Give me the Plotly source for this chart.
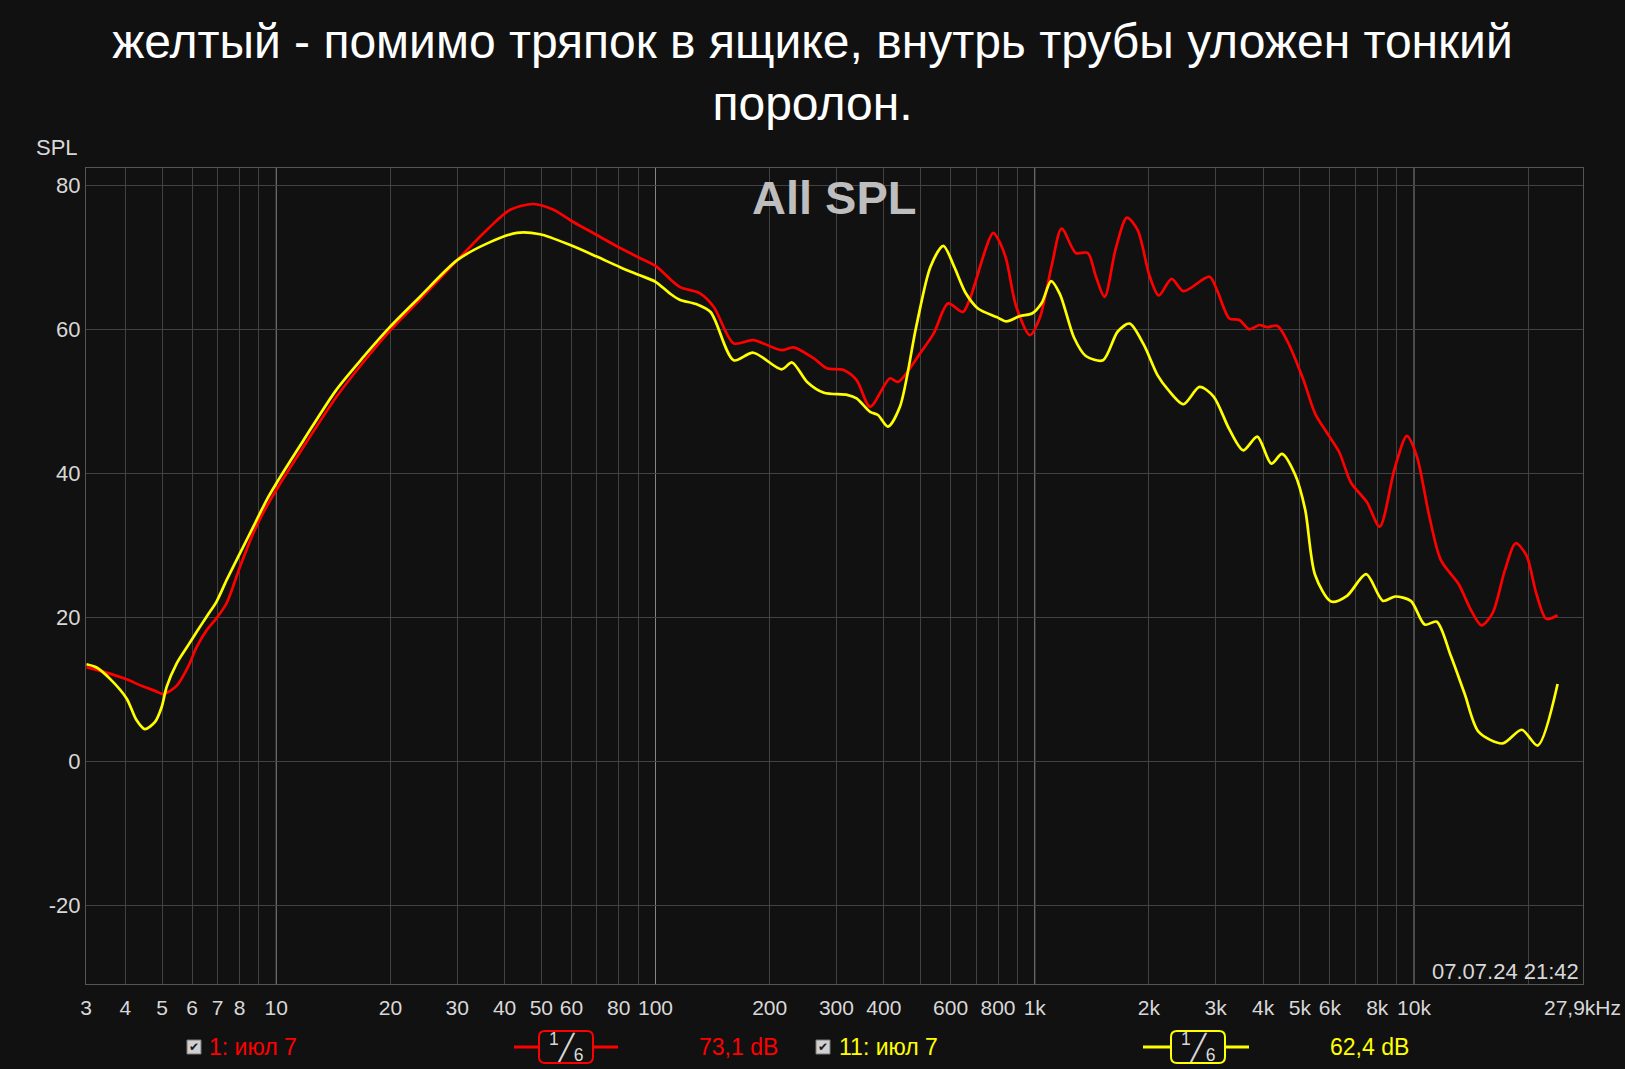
import numpy as np
import plotly.graph_objects as go

# ---------------- data ----------------
red_freq = [3.16, 3.64, 4.03, 4.41, 4.79, 5.03, 5.46, 5.86, 6.17, 6.55, 6.96, 7.40, 8.02, 8.70, 9.43,
            10.0, 11.8, 14.4, 17.0, 20.0, 23.9, 30.0, 35.9, 41.4, 47.6, 53.8, 60.7, 70.0, 80.9, 90.9,
            100, 115.8, 131, 142.5, 160.7, 181, 215, 231, 261, 283, 313, 339, 368, 415, 436, 499, 541,
            591, 646, 673, 777, 810, 842, 893, 971, 1031, 1110, 1177, 1283, 1380, 1448, 1528, 1635,
            1750, 1867, 2008, 2123, 2295, 2467, 2888, 3031, 3260, 3463, 3679, 3908, 4103, 4359, 4630,
            5101, 5485, 5900, 6344, 6823, 7514, 8121, 8903, 9574, 10170, 10937, 11763, 13120, 14105,
            15056, 16115, 17330, 18540, 19790, 21020, 22340, 23910]
red_db = [13.1, 12.2, 11.4, 10.5, 9.8, 9.35, 10.5, 13.2, 15.9, 18.2, 19.9, 22.0, 27.0, 31.7, 35.4,
          37.7, 43.7, 50.6, 55.5, 59.9, 64.1, 69.6, 73.8, 76.6, 77.4, 76.6, 74.9, 73.1, 71.25, 69.9,
          68.8, 65.9, 65.0, 63.1, 58.05, 58.5, 57.1, 57.5, 56.0, 54.6, 54.35, 52.96, 49.25, 53.2, 52.7,
          56.7, 59.4, 63.6, 62.4, 64.1, 73.4, 72.0, 69.6, 63.2, 59.2, 61.6, 69.0, 74.0, 70.6, 70.6,
          67.4, 64.5, 71.2, 75.5, 73.8, 67.4, 64.7, 67.0, 65.3, 67.3, 65.3, 61.5, 61.3, 60.0, 60.6,
          60.3, 60.5, 58.4, 53.1, 48.3, 45.6, 43.0, 38.7, 36.0, 32.6, 40.8, 45.2, 42.4, 34.4, 28.0,
          24.6, 21.1, 18.9, 20.6, 26.4, 30.3, 28.6, 23.3, 19.8, 20.3]

yel_freq = [3.16, 3.36, 3.64, 4.03, 4.28, 4.50, 4.79, 4.99, 5.14, 5.46, 5.86, 6.17, 6.55, 6.96, 7.40,
            8.02, 8.70, 9.43, 10.0, 11.8, 14.4, 17.0, 20.0, 23.9, 30.0, 35.9, 43.1, 49.6, 59.6, 70.0,
            80.9, 90.9, 100, 109, 115.8, 128, 139.7, 160.7, 181, 215, 229, 251, 278, 320, 339, 368, 386,
            410, 441, 487, 531, 574, 613, 658, 708, 793, 842, 915, 983, 1044, 1104, 1165, 1268, 1363,
            1513, 1655, 1780, 1937, 2109, 2240, 2467, 2719, 2959, 3260, 3547, 3862, 4204, 4487, 4860,
            5163, 5485, 6043, 6658, 7477, 8279, 8903, 9808, 10675, 11482, 12497, 13600, 14808, 17122,
            19232, 21184, 23910]
yel_db = [13.5, 13.05, 11.5, 8.75, 5.74, 4.49, 5.5, 7.6, 10.36, 13.6, 16.15, 18.0, 20.1, 22.2, 25.2,
          28.9, 32.6, 36.3, 38.6, 44.6, 51.6, 56.2, 60.4, 64.5, 69.6, 71.9, 73.4, 73.2, 71.7, 70.1,
          68.6, 67.5, 66.6, 65.0, 64.1, 63.5, 62.4, 55.7, 56.75, 54.45, 55.4, 52.7, 51.2, 50.9, 50.4,
          48.55, 48.1, 46.5, 49.25, 60.4, 68.7, 71.6, 68.7, 65.0, 62.9, 61.7, 61.1, 61.85, 62.2, 63.7,
          66.7, 64.9, 58.9, 56.3, 55.7, 59.7, 60.8, 57.9, 53.6, 51.7, 49.6, 52.0, 50.7, 46.1, 43.2,
          45.1, 41.35, 42.7, 39.8, 35.0, 25.9, 22.2, 23.0, 26.0, 22.3, 22.9, 22.3, 19.0, 19.4, 14.7,
          9.4, 4.1, 2.5, 4.4, 2.2, 10.75]

x_tick_vals = [3.15, 4, 5, 6, 7, 8, 10, 20, 30, 40, 50, 60, 80, 100, 200, 300, 400, 600, 800,
               1000, 2000, 3000, 4000, 5000, 6000, 8000, 10000]
x_tick_text = ["3", "4", "5", "6", "7", "8", "10", "20", "30", "40", "50", "60", "80", "100", "200",
               "300", "400", "600", "800", "1k", "2k", "3k", "4k", "5k", "6k", "8k", "10k"]
y_tick_vals = [-20, 0, 20, 40, 60, 80]
y_tick_text = ["-20", "0", "20", "40", "60", "80"]

f_min, f_max = 3.15, 27900
db_min, db_max = -30.9, 82.4

title_text = "желтый - помимо тряпок в ящике, внутрь трубы уложен тонкий<br>поролон."
red_name, red_level = "1: июл 7", "73,1 dB"
yel_name, yel_level = "11: июл 7", "62,4 dB"
stamp = "07.07.24 21:42"
f_max_label = "27,9kHz"

# ---------------- layout helpers ----------------
W, H = 1625, 1069
L, R, T, B = 86, 42, 168, 85
PW, PH = W - L - R, H - T - B
def px(x):
    return (x - L) / PW
def py(y):
    return (H - B - y) / PH

RED = "#ff0000"
YEL = "#ffff00"
BG = "#111111"
GRID = "#424242"
TXT = "#d8d8d8"
FONT = "Liberation Sans, Arial, sans-serif"

grid_freqs = [m * 10 ** e for e in range(0, 5) for m in range(1, 10)
              if f_min <= m * 10 ** e <= f_max]
decades = [10, 100, 1000, 10000]
minor_grid = [f for f in grid_freqs if f not in decades]

fig = go.Figure()
fig.add_trace(go.Scatter(x=red_freq, y=red_db, mode="lines",
                         line=dict(color=RED, width=2.7, shape="spline", smoothing=0.8),
                         showlegend=False, hoverinfo="skip"))
fig.add_trace(go.Scatter(x=yel_freq, y=yel_db, mode="lines",
                         line=dict(color=YEL, width=2.7, shape="spline", smoothing=0.8),
                         showlegend=False, hoverinfo="skip"))

shapes = []
for d in decades:
    shapes.append(dict(type="line", xref="x", yref="paper", x0=d, x1=d, y0=0, y1=1,
                       line=dict(color="#858585", width=1), layer="between"))

annotations = []
annotations.append(dict(text="SPL", x=px(57), y=py(147), xref="paper", yref="paper",
                        showarrow=False, xanchor="center", yanchor="middle",
                        font=dict(size=22, color=TXT, family=FONT)))
annotations.append(dict(text="<b>All SPL</b>", x=0.5, y=py(197), xref="paper", yref="paper",
                        showarrow=False, xanchor="center", yanchor="middle",
                        font=dict(size=47, color="#bebebe", family=FONT)))
annotations.append(dict(text=stamp, x=px(1581), y=py(971), xref="paper", yref="paper",
                        showarrow=False, xanchor="right", yanchor="middle",
                        font=dict(size=22, color=TXT, family=FONT)))
annotations.append(dict(text=f_max_label, x=px(1623), y=py(1008), xref="paper", yref="paper",
                        showarrow=False, xanchor="right", yanchor="middle",
                        font=dict(size=21, color=TXT, family=FONT)))


def rounded_rect(x0, y0, x1, y1, r):
    X = lambda v: px(v)
    Y = lambda v: py(v)
    return (f"M {X(x0 + r)} {Y(y0)} L {X(x1 - r)} {Y(y0)} Q {X(x1)} {Y(y0)} {X(x1)} {Y(y0 + r)} "
            f"L {X(x1)} {Y(y1 - r)} Q {X(x1)} {Y(y1)} {X(x1 - r)} {Y(y1)} "
            f"L {X(x0 + r)} {Y(y1)} Q {X(x0)} {Y(y1)} {X(x0)} {Y(y1 - r)} "
            f"L {X(x0)} {Y(y0 + r)} Q {X(x0)} {Y(y0)} {X(x0 + r)} {Y(y0)} Z")


LEG_Y = 1047
def legend_item(check_x, name_x, box_cx, line_x0, line_x1, level_x, name, level, color):
    shapes.append(dict(type="rect", xref="paper", yref="paper",
                       x0=px(check_x - 7), x1=px(check_x + 7), y0=py(LEG_Y - 7), y1=py(LEG_Y + 7),
                       fillcolor="#d0d0d0", line=dict(color="#7a7a7a", width=1), layer="above"))
    annotations.append(dict(text="✔", x=px(check_x), y=py(LEG_Y), xref="paper", yref="paper",
                            showarrow=False, xanchor="center", yanchor="middle",
                            font=dict(size=12, color="#1a1a1a", family="DejaVu Sans")))
    annotations.append(dict(text=name, x=px(name_x), y=py(LEG_Y), xref="paper", yref="paper",
                            showarrow=False, xanchor="left", yanchor="middle",
                            font=dict(size=23, color=color, family=FONT)))
    shapes.append(dict(type="line", xref="paper", yref="paper", x0=px(line_x0), x1=px(line_x1),
                       y0=py(LEG_Y), y1=py(LEG_Y), line=dict(color=color, width=3), layer="above"))
    shapes.append(dict(type="path", xref="paper", yref="paper",
                       path=rounded_rect(box_cx - 27, LEG_Y - 16, box_cx + 27, LEG_Y + 16, 6),
                       fillcolor=BG, line=dict(color=color, width=2), layer="above"))
    annotations.append(dict(text="<sup>1</sup>╱<sub>6</sub>", x=px(box_cx), y=py(LEG_Y),
                            xref="paper", yref="paper", showarrow=False,
                            xanchor="center", yanchor="middle",
                            font=dict(size=25, color=TXT, family=FONT)))
    annotations.append(dict(text=level, x=px(level_x), y=py(LEG_Y), xref="paper", yref="paper",
                            showarrow=False, xanchor="left", yanchor="middle",
                            font=dict(size=23, color=color, family=FONT)))

legend_item(194, 207, 566, 514, 618, 697, red_name, red_level, RED)
legend_item(823, 837, 1198, 1143, 1249, 1328, yel_name, yel_level, YEL)

fig.update_layout(
    width=W, height=H,
    paper_bgcolor=BG, plot_bgcolor=BG,
    margin=dict(l=L, r=R, t=T, b=B, pad=0),
    title=dict(text=title_text, x=0.5, xref="container", xanchor="center",
               y=0.946, yref="container", yanchor="top",
               font=dict(size=48, color="#ffffff", family=FONT)),
    xaxis=dict(type="log", range=[np.log10(f_min), np.log10(f_max)],
               tickmode="array", tickvals=x_tick_vals, ticktext=x_tick_text,
               showgrid=False, zeroline=False,
               ticks="outside", ticklen=5, tickcolor="rgba(0,0,0,0)",
               tickfont=dict(size=21, color=TXT, family=FONT),
               showline=True, mirror=True, linecolor="#555555", linewidth=1,
               minor=dict(tickmode="array", tickvals=minor_grid, showgrid=True,
                          gridcolor=GRID, gridwidth=1, ticks="")),
    yaxis=dict(range=[db_min, db_max], tickmode="array", tickvals=y_tick_vals,
               ticktext=y_tick_text, showgrid=True, gridcolor=GRID, gridwidth=1,
               zeroline=False, ticks="",
               tickfont=dict(size=22, color=TXT, family=FONT),
               showline=True, mirror=True, linecolor="#555555", linewidth=1),
    shapes=shapes,
    annotations=annotations,
    showlegend=False,
)

fig.write_html("out.html", config={"displayModeBar": False},
               post_script="document.body.style.margin='0';document.body.style.background='#111111';")
